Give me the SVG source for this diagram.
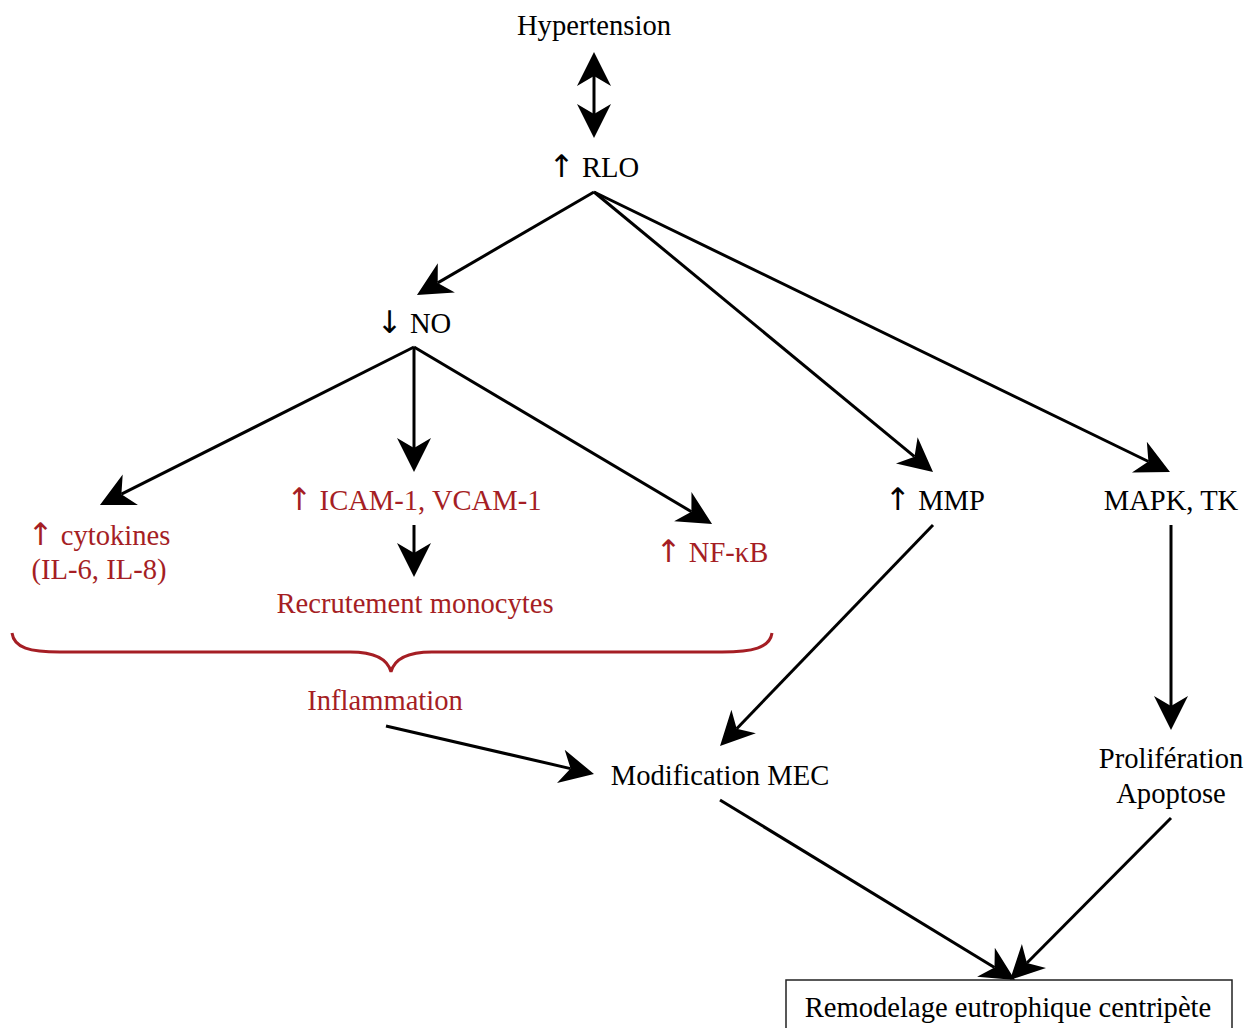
<svg xmlns="http://www.w3.org/2000/svg" width="1245" height="1028" viewBox="0 0 1245 1028">
<style>
text{font-family:"Liberation Serif","Times New Roman",serif;font-size:28.6px;text-anchor:middle;fill:#000}
.ar{font-family:"DejaVu Sans","Noto Sans",sans-serif;font-size:31px}
.red{fill:#a51e24}
.ln{stroke:#000;stroke-width:3;fill:none}
</style>
<defs>
<marker id="ah" viewBox="-12 -18 38 36" markerWidth="38" markerHeight="36" refX="0" refY="0" orient="auto-start-reverse" markerUnits="userSpaceOnUse">
<path d="M24,0 L-10,-17 L0,0 L-10,17 Z" fill="#000"/>
</marker>
</defs>
<rect width="1245" height="1028" fill="#fff"/>
<g id="connectors">
<line class="ln" x1="594" y1="76" x2="594" y2="114" marker-start="url(#ah)" marker-end="url(#ah)"/>
<line class="ln" x1="594" y1="192" x2="437.7" y2="282.9" marker-end="url(#ah)"/>
<line class="ln" x1="594" y1="192" x2="914.5" y2="456.7" marker-end="url(#ah)"/>
<line class="ln" x1="594" y1="192" x2="1148.4" y2="461.5" marker-end="url(#ah)"/>
<line class="ln" x1="414" y1="347" x2="121.4" y2="494.2" marker-end="url(#ah)"/>
<line class="ln" x1="414" y1="347" x2="414" y2="448" marker-end="url(#ah)"/>
<line class="ln" x1="414" y1="347" x2="691.4" y2="511.7" marker-end="url(#ah)"/>
<line class="ln" x1="414" y1="525" x2="414" y2="553" marker-end="url(#ah)"/>
<line class="ln" x1="933" y1="525" x2="736.7" y2="728.7" marker-end="url(#ah)"/>
<line class="ln" x1="1171" y1="525" x2="1171" y2="706" marker-end="url(#ah)"/>
<line class="ln" x1="386" y1="726" x2="570.6" y2="768.6" marker-end="url(#ah)"/>
<line class="ln" x1="720" y1="800" x2="994.5" y2="967.5" marker-end="url(#ah)"/>
<line class="ln" x1="1171" y1="818" x2="1026.9" y2="963" marker-end="url(#ah)"/>
</g>
<g id="brace">
<path d="M12,633 C14,648 30,652 60,652 L350,652 C375,652 388,660 391,672 C394,660 407,652 432,652 L722,652 C752,652 770,648 772,633" fill="none" stroke="#a51e24" stroke-width="3"/>
</g>
<g id="n-hypertension"><text x="594" y="35">Hypertension</text></g>
<g id="n-rlo"><text x="594" y="177"><tspan class="ar">↑</tspan> RLO</text></g>
<g id="n-no"><text x="414" y="333"><tspan class="ar">↓</tspan> NO</text></g>
<g id="n-cytokines"><text class="red" x="99" y="545"><tspan class="ar">↑</tspan> cytokines</text><text class="red" x="99" y="579">(IL-6, IL-8)</text></g>
<g id="n-icam"><text class="red" x="414" y="510"><tspan class="ar">↑</tspan> ICAM-1, VCAM-1</text></g>
<g id="n-recrutement"><text class="red" x="415" y="613">Recrutement monocytes</text></g>
<g id="n-nfkb"><text class="red" x="712" y="562"><tspan class="ar">↑</tspan> NF-κB</text></g>
<g id="n-mmp"><text x="935" y="510"><tspan class="ar">↑</tspan> MMP</text></g>
<g id="n-mapk"><text x="1171" y="510">MAPK, TK</text></g>
<g id="n-inflammation"><text class="red" x="385" y="710">Inflammation</text></g>
<g id="n-mec"><text x="720" y="785">Modification MEC</text></g>
<g id="n-prolif"><text x="1171" y="768">Prolifération</text><text x="1171" y="803">Apoptose</text></g>
<g id="n-remodelage">
<rect x="786" y="980" width="446" height="52" fill="#fff" stroke="#222" stroke-width="1.5"/>
<text x="1008" y="1017">Remodelage eutrophique centripète</text>
</g>
</svg>
